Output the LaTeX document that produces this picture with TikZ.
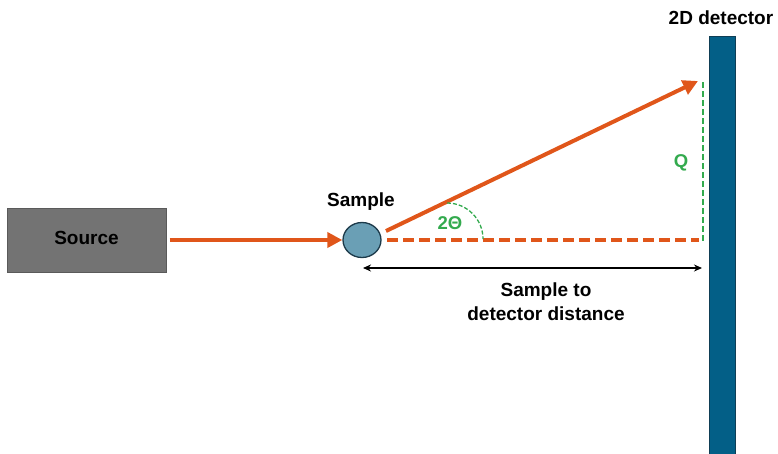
\documentclass[tikz,border=0pt]{standalone}
\usepackage{fontspec}
\setmainfont{Liberation Sans}
\usetikzlibrary{arrows.meta,shapes.geometric}
\definecolor{beam}{HTML}{E0561A}
\definecolor{srcgray}{HTML}{737373}
\definecolor{srcborder}{HTML}{5A5A5A}
\definecolor{samplefill}{HTML}{6A9FB5}
\definecolor{sampleborder}{HTML}{1C3A4A}
\definecolor{detfill}{HTML}{035F87}
\definecolor{detborder}{HTML}{0F3E55}
\definecolor{qgreen}{HTML}{33AA4E}
\tikzset{
  lbl/.style={font=\fontsize{19}{24}\selectfont\bfseries, text=black, inner sep=0pt},
  glbl/.style={font=\fontsize{18.5}{22}\selectfont\bfseries, text=qgreen, inner sep=0pt},
  beamline/.style={draw=beam, line width=4pt},
  beamarrow/.style={beamline, -{Triangle[length=15pt,width=15pt]}},
  beamdash/.style={draw=beam, line width=3.2pt, dash pattern=on 11pt off 5pt},
  qdash/.style={draw=qgreen, line width=2pt, dash pattern=on 6pt off 3pt},
  arcdash/.style={draw=qgreen, line width=1.3pt, dash pattern=on 4pt off 2pt},
  dimarrow/.style={draw=black, line width=1.5pt, {Stealth[length=8pt,width=7pt]}-{Stealth[length=8pt,width=7pt]}}
}
\begin{document}
\begin{tikzpicture}[x=1pt,y=-1pt]
\useasboundingbox (0,0) rectangle (778,453);
% source
\node[draw=srcborder, fill=srcgray, line width=1pt, minimum width=159pt, minimum height=64pt, inner sep=0pt] (src) at (86.5,240) {};
\node[lbl] (srclbl) at (86.5,238) {Source};
% sample
\node[draw=sampleborder, fill=samplefill, line width=1.3pt, ellipse, minimum width=38pt, minimum height=35pt, inner sep=0pt] (sample) at (362,240) {};
\node[lbl] (samplelbl) at (361,202) {Sample};
% detector
\node[draw=detborder, fill=detfill, line width=1pt, minimum width=26pt, minimum height=430pt, inner sep=0pt, anchor=north] (det) at (722,36) {};
\node[lbl] (detlbl) at (721,18) {2D detector};
% coordinates
\coordinate (diffstart) at (386,231);
\coordinate (difftip) at (698,81);
\coordinate (dashstart) at (387,240);
\coordinate (dashend) at (699,240);
\coordinate (qtop) at (703,82);
\coordinate (qbot) at (703,243);
\coordinate (distL) at (363,268);
\coordinate (distR) at (702,268);
% incident beam
\draw[beamarrow] ([xshift=3pt]src.east) -- (sample.west);
% diffracted beam
\draw[beamarrow] (diffstart) -- (difftip);
% transmitted dashed
\draw[beamdash] (dashstart) -- (dashend);
% Q
\draw[qdash] (qtop) -- (qbot);
\node[glbl] (qlbl) at (681,163) {Q};
% angle arc
\draw[arcdash] (447,203) arc[start angle=-90, end angle=0, radius=36];
\node[glbl] (thlbl) at (450,223) {2Θ};
% distance
\draw[dimarrow] (distL) -- (distR);
\node[lbl, align=center] (distlbl) at (546,302) {Sample to\\detector distance};
\end{tikzpicture}
\end{document}
